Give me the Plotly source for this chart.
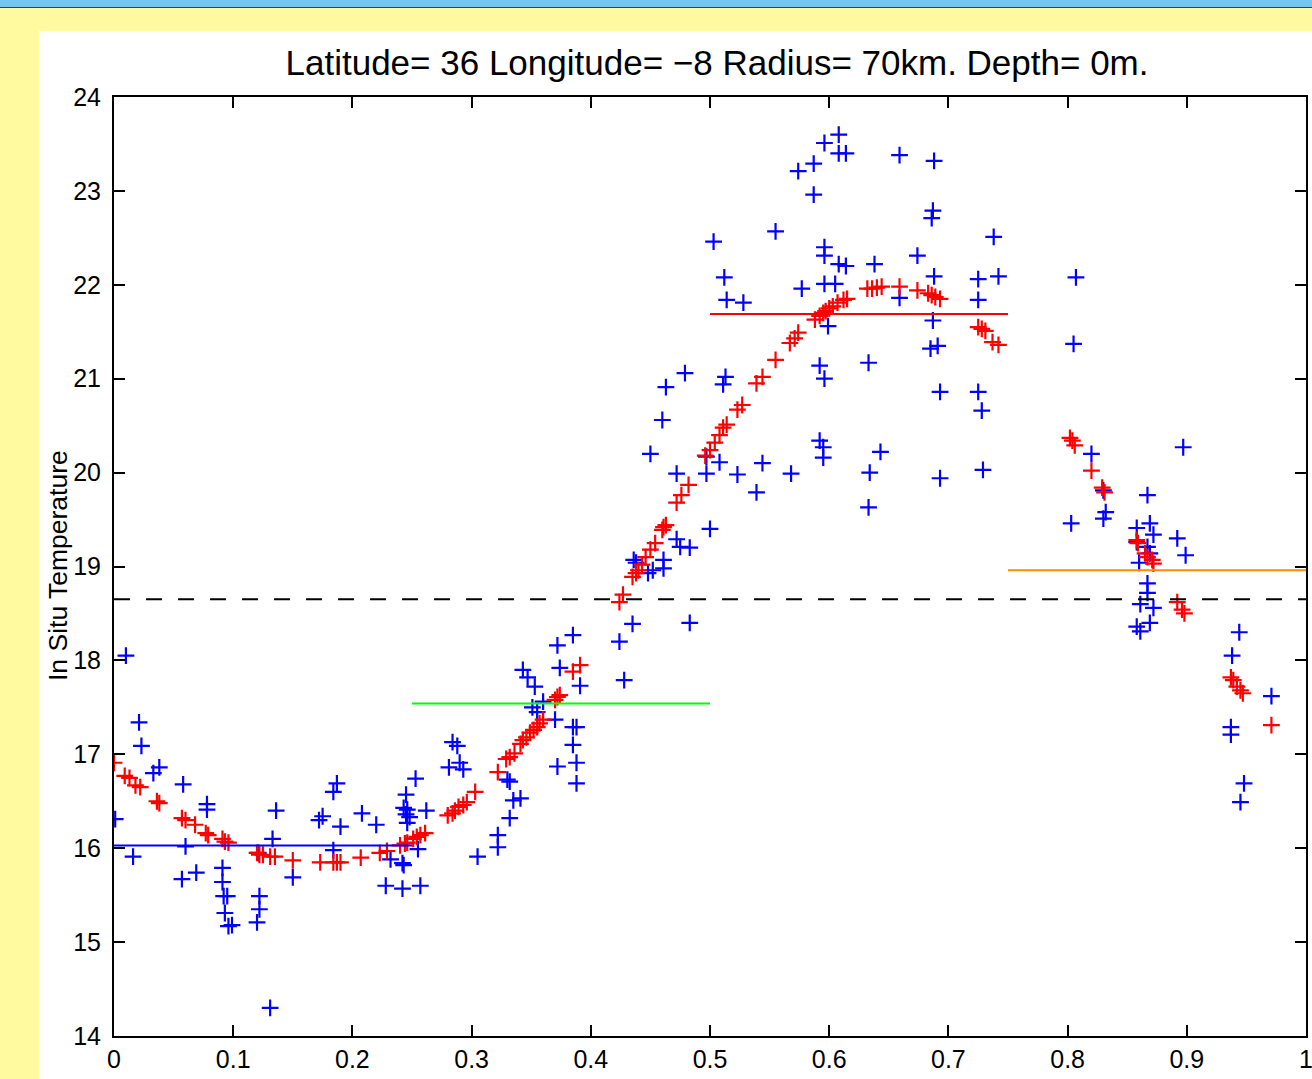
import plotly.graph_objects as go

# ---- observations (blue) ----
obs_x = [0.001, 0.010, 0.016, 0.021, 0.023, 0.033, 0.038, 0.058, 0.060, 0.057,
         0.069, 0.078, 0.078, 0.091, 0.091, 0.092, 0.095, 0.093, 0.096, 0.099,
         0.122, 0.122, 0.120, 0.133, 0.136, 0.131, 0.121, 0.150, 0.172, 0.175,
         0.184, 0.187, 0.190, 0.184, 0.208, 0.220, 0.228, 0.242, 0.253, 0.245,
         0.243, 0.246, 0.245, 0.248, 0.246, 0.262, 0.255, 0.232, 0.242, 0.243,
         0.257, 0.284, 0.288, 0.281, 0.290, 0.293, 0.305, 0.322, 0.322, 0.330,
         0.332, 0.335, 0.341, 0.332, 0.343, 0.347, 0.353, 0.351, 0.355, 0.360,
         0.370, 0.372, 0.385, 0.374, 0.391, 0.385, 0.388, 0.385, 0.372, 0.388,
         0.388, 0.424, 0.435, 0.428,
         0.479, 0.463, 0.513, 0.511, 0.460, 0.450, 0.497, 0.508, 0.472, 0.497,
         0.523, 0.544, 0.568, 0.539, 0.500, 0.472, 0.475, 0.483, 0.461, 0.461,
         0.436, 0.438, 0.448, 0.452, 0.483,
         0.608, 0.596, 0.608, 0.614, 0.587, 0.574, 0.587, 0.555, 0.503, 0.512,
         0.514, 0.528, 0.596, 0.596, 0.608, 0.614, 0.596, 0.605, 0.577, 0.638,
         0.599, 0.659, 0.688, 0.687, 0.686, 0.738, 0.674, 0.688, 0.725, 0.742,
         0.659, 0.725, 0.687, 0.691, 0.685, 0.592, 0.596, 0.633, 0.693, 0.725,
         0.728, 0.592, 0.595, 0.595, 0.643, 0.634, 0.693, 0.729, 0.633,
         0.805, 0.807, 0.897, 0.820, 0.867, 0.803, 0.830, 0.832, 0.830, 0.858,
         0.869, 0.872, 0.892, 0.899, 0.858, 0.867, 0.869, 0.860, 0.867, 0.867,
         0.861, 0.872, 0.858, 0.861, 0.869, 0.944, 0.938, 0.971, 0.937, 0.937,
         0.948, 0.945]
obs_t = [16.31, 18.05, 15.91, 17.34, 17.09, 16.80, 16.86, 16.68, 16.02, 15.67,
         15.74, 16.47, 16.41, 15.79, 15.64, 15.49, 15.49, 15.31, 15.17, 15.18,
         15.49, 15.35, 15.21, 16.10, 16.40, 14.30, 15.95, 15.69, 16.30, 16.34,
         16.60, 16.69, 16.23, 15.98, 16.37, 16.25, 15.60, 15.57, 16.74, 16.57,
         16.43, 16.41, 16.36, 16.33, 16.27, 16.40, 15.99, 15.88, 15.84, 15.82,
         15.60, 17.13, 17.09, 16.86, 16.91, 16.84, 15.91, 16.14, 16.01, 16.73,
         16.71, 16.51, 16.53, 16.32, 17.90, 17.82, 17.72, 17.50, 17.45, 17.56,
         17.37, 18.16, 18.27, 17.92, 17.73, 17.29, 17.29, 17.10, 16.87, 16.91,
         16.69, 18.20, 18.39, 17.79,
         21.06, 20.91, 21.02, 20.94, 20.56, 20.20, 20.17, 20.11, 19.99, 19.99,
         19.98, 20.10, 19.99, 19.79, 19.40, 19.29, 19.21, 19.20, 19.07, 18.98,
         19.07, 19.04, 18.93, 18.96, 18.40,
         23.60, 23.51, 23.40, 23.40, 23.29, 23.21, 22.96, 22.57, 22.46, 22.08,
         21.84, 21.81, 22.40, 22.31, 22.22, 22.20, 22.01, 22.01, 21.96, 22.22,
         21.56, 23.38, 23.32, 22.79, 22.71, 22.51, 22.31, 22.09, 22.06, 22.09,
         21.86, 21.84, 21.62, 21.35, 21.32, 21.14, 21.00, 21.17, 20.86, 20.86,
         20.66, 20.34, 20.27, 20.16, 20.22, 20.00, 19.94, 20.03, 19.63,
         21.37, 22.08, 20.27, 20.20, 19.76, 19.46, 19.51, 19.58, 19.81, 19.41,
         19.46, 19.34, 19.30, 19.12, 19.26, 19.21, 19.14, 19.04, 18.82, 18.72,
         18.60, 18.56, 18.36, 18.31, 18.40, 18.30, 18.05, 17.62, 17.29, 17.21,
         16.69, 16.49]

# ---- smoothed profile (red) ----
fit_x = [0.000, 0.009, 0.013, 0.018, 0.022, 0.036, 0.038, 0.057, 0.060, 0.068,
         0.077, 0.079, 0.091, 0.093, 0.096, 0.120, 0.122, 0.125, 0.131, 0.135,
         0.150, 0.173, 0.184, 0.187, 0.190, 0.207, 0.223, 0.229, 0.240, 0.244,
         0.246, 0.251, 0.254, 0.257, 0.261, 0.280, 0.284, 0.286, 0.289, 0.293,
         0.296, 0.303, 0.322, 0.329, 0.332, 0.336, 0.341, 0.343, 0.346, 0.349,
         0.352, 0.355, 0.357, 0.360, 0.370, 0.372, 0.374, 0.385, 0.391, 0.424,
         0.427, 0.435, 0.438, 0.440, 0.443, 0.446, 0.450, 0.454, 0.460, 0.461,
         0.463, 0.472, 0.476, 0.482, 0.496, 0.500, 0.504, 0.508, 0.511, 0.514,
         0.523, 0.527, 0.539, 0.544, 0.555, 0.567, 0.571, 0.574, 0.588, 0.592,
         0.595, 0.597, 0.600, 0.603, 0.607, 0.612, 0.615, 0.632, 0.636, 0.640,
         0.644, 0.659, 0.674, 0.683, 0.686, 0.689, 0.693, 0.725, 0.728, 0.731,
         0.737, 0.742, 0.802, 0.804, 0.806, 0.820, 0.829, 0.831, 0.858, 0.859,
         0.865, 0.867, 0.871, 0.872, 0.892, 0.896, 0.898, 0.937, 0.939, 0.942,
         0.945, 0.947, 0.971]
fit_t = [16.91, 16.77, 16.75, 16.67, 16.65, 16.50, 16.48, 16.32, 16.30, 16.25,
         16.16, 16.14, 16.10, 16.07, 16.06, 15.95, 15.93, 15.93, 15.91, 15.91,
         15.87, 15.85, 15.85, 15.85, 15.85, 15.90, 15.95, 15.97, 16.03, 16.05,
         16.06, 16.10, 16.12, 16.14, 16.16, 16.35, 16.37, 16.40, 16.44, 16.46,
         16.49, 16.60, 16.81, 16.95, 16.97, 17.01, 17.11, 17.15, 17.18, 17.23,
         17.26, 17.29, 17.33, 17.37, 17.58, 17.61, 17.63, 17.88, 17.95, 18.62,
         18.70, 18.89, 18.93, 18.96, 19.02, 19.10, 19.18, 19.25, 19.39, 19.42,
         19.44, 19.68, 19.76, 19.87, 20.18, 20.24, 20.32, 20.40, 20.48, 20.51,
         20.67, 20.72, 20.95, 21.02, 21.20, 21.38, 21.43, 21.49, 21.63, 21.67,
         21.70, 21.72, 21.75, 21.77, 21.81, 21.84, 21.85, 21.96, 21.96, 21.97,
         21.98, 21.98, 21.94, 21.91, 21.89, 21.87, 21.85, 21.55, 21.53, 21.51,
         21.39, 21.36, 20.37, 20.34, 20.29, 20.02, 19.84, 19.79, 19.28, 19.25,
         19.14, 19.10, 19.07, 19.03, 18.62, 18.54, 18.50, 17.82, 17.79, 17.72,
         17.68, 17.65, 17.31]

# ---- seasonal means (quarter segments) and overall mean ----
quarter_start = [0.0, 0.25, 0.5, 0.75]
quarter_end = [0.25, 0.5, 0.75, 1.0]
quarter_mean = [16.03, 17.54, 21.69, 18.96]
quarter_color = ["rgb(0,0,255)", "rgb(0,255,0)", "rgb(255,0,0)", "rgb(255,140,0)"]
annual_mean = 18.65

FONT = "Liberation Sans, Arial, Helvetica, sans-serif"
W, H = 1312, 1079
ML, MR, MT, MB = 114, 6, 97, 43
PW, PH = W - ML - MR, H - MT - MB


def px_x(p):
    return (p - ML) / PW


def px_y(p):
    return (H - MB - p) / PH


def cross_trace(x, y, color):
    return go.Scatter(
        x=x, y=y, mode="markers", showlegend=False, hoverinfo="x+y",
        marker=dict(symbol="cross-thin", size=12, color=color,
                    line=dict(width=2.2, color=color)))


fig = go.Figure()
fig.add_trace(cross_trace(obs_x, obs_t, "rgb(0,0,255)"))
fig.add_trace(cross_trace(fit_x, fit_t, "rgb(255,0,0)"))

for x0, x1, m, c in zip(quarter_start, quarter_end, quarter_mean, quarter_color):
    fig.add_trace(go.Scatter(x=[x0, x1], y=[m, m], mode="lines", showlegend=False,
                             line=dict(color=c, width=2)))

fig.add_trace(go.Scatter(x=[0, 1], y=[annual_mean, annual_mean], mode="lines",
                         showlegend=False,
                         line=dict(color="black", width=2, dash="16px,16px")))

axis_common = dict(
    showgrid=False, zeroline=False, showline=True, linecolor="black", linewidth=2,
    mirror="ticks", ticks="inside", ticklen=11, tickwidth=2, tickcolor="black",
    automargin=False, ticklabeloverflow="allow",
    tickfont=dict(family=FONT, size=25, color="black"),
)

fig.update_layout(
    width=W, height=H, autosize=False,
    margin=dict(l=ML, r=MR, t=MT, b=MB, pad=0, autoexpand=False),
    paper_bgcolor="rgb(255,249,160)",
    plot_bgcolor="white",
    font=dict(family=FONT, color="black"),
    xaxis=dict(range=[0, 1], dtick=0.1, tick0=0, ticklabelstandoff=0, **axis_common),
    yaxis=dict(range=[14, 24], dtick=1, tick0=14, ticklabelstandoff=6, **axis_common),
    title=dict(text="Latitude= 36 Longitude= \u22128 Radius= 70km. Depth= 0m.",
               x=px_x(717), xref="paper", xanchor="center",
               y=1 - 63 / H, yref="container", yanchor="middle",
               font=dict(family=FONT, size=35, color="black")),
    shapes=[
        # white figure panel
        dict(type="rect", xref="paper", yref="paper", layer="below",
             x0=px_x(39), x1=px_x(W + 2), y0=px_y(H + 2), y1=px_y(31),
             fillcolor="white", line=dict(width=0)),
        # window header strip
        dict(type="rect", xref="paper", yref="paper", layer="below",
             x0=px_x(-2), x1=px_x(W + 2), y0=px_y(7), y1=px_y(-2),
             fillcolor="rgb(118,196,240)", line=dict(width=0)),
        dict(type="line", xref="paper", yref="paper", layer="below",
             x0=px_x(-2), x1=px_x(W + 2), y0=px_y(7.5), y1=px_y(7.5),
             line=dict(color="rgb(40,70,100)", width=1)),
    ],
    annotations=[
        dict(text="In Situ Temperature", xref="paper", yref="paper",
             x=px_x(58), y=px_y(566), xanchor="center", yanchor="middle",
             textangle=-90, showarrow=False,
             font=dict(family=FONT, size=26.5, color="black")),
    ],
)

fig.write_html("out.html")
